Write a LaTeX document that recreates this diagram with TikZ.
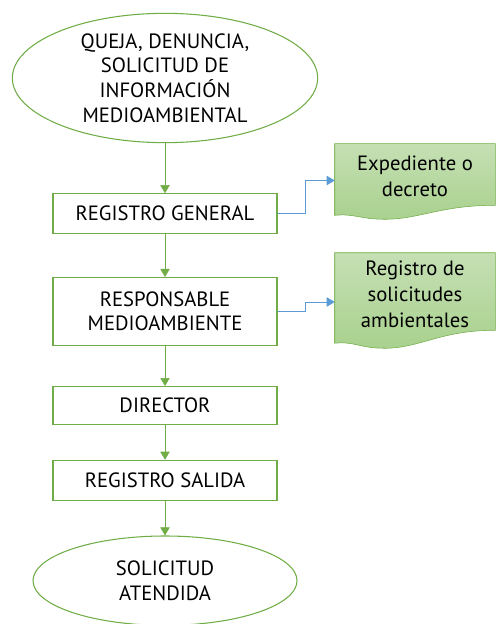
\documentclass[tikz,border=0pt]{standalone}
\usepackage{fontspec}
\setmainfont{PT Sans}
\usetikzlibrary{positioning,shapes.geometric,arrows.meta,calc}
\definecolor{verde}{HTML}{70AD47}
\definecolor{verdeclaro}{HTML}{C5E0B4}
\definecolor{verdemedio}{HTML}{A9D18E}
\definecolor{azul}{HTML}{5B9BD5}
\begin{document}
\begin{tikzpicture}
  [x=0.75pt,y=-0.75pt,
   node distance=37.5pt,
   terminal/.style={ellipse,draw=verde,thick,inner sep=0pt,
                    minimum width=229pt,minimum height=97pt,
                    align=center,font=\fontsize{15.5}{18.4}\selectfont},
   proceso/.style={rectangle,draw=verde,thick,inner sep=0pt,
                   minimum width=168pt,minimum height=30pt,
                   align=center,font=\fontsize{15.5}{18.4}\selectfont},
   documento/.style={rectangle,inner sep=0pt,minimum width=120pt,
                     minimum height=54pt,align=center,
                     font=\fontsize{15.5}{19.5}\selectfont},
   flujo/.style={-{Triangle[length=6pt,width=7pt]},verde},
   enlace/.style={-{Triangle[length=6pt,width=7pt]},azul}]
  \useasboundingbox (0,0) rectangle (498,624);
  \node[terminal] (queja) at (165,78)
    {QUEJA, DENUNCIA,\\SOLICITUD DE\\INFORMACIÓN\\MEDIOAMBIENTAL};
  \node[proceso] (general) [below=37.5pt of queja] {REGISTRO GENERAL};
  \node[proceso,minimum height=51pt] (responsable) [below=32pt of general]
    {RESPONSABLE\\MEDIOAMBIENTE};
  \node[proceso,minimum height=28.5pt] (director) [below=30pt of responsable] {DIRECTOR};
  \node[proceso] (salida) [below=26pt of director] {REGISTRO SALIDA};
  \node[terminal,minimum width=198pt,minimum height=67pt] (atendida)
    [below=26pt of salida] {SOLICITUD\\ATENDIDA};
  % documentos
  \node[documento,minimum height=45.75pt] (expediente) at (415,174.5) {};
  \node[documento,minimum height=57.75pt] (solicitudes) at (415,291.5) {};
  \foreach \d/\a in {expediente/14,solicitudes/18}
    \shade[draw=verde,top color=verdeclaro,bottom color=verdemedio]
      (\d.north west) -- (\d.north east) -- (\d.south east)
      .. controls +(-55,0) and +(35,0) .. ($(\d.south west)+(50,\a)$)
      .. controls +(-25,0) and +(20,-2) .. ($(\d.south west)+(0,0.72*\a)$) -- cycle;
  \node[documento,minimum height=45pt] at (415,176) {Expediente o\\decreto};
  \node[documento,minimum height=69pt] at (415,294)
    {Registro de\\solicitudes\\ambientales};
  % flujo principal
  \draw[flujo] (queja) -- (general);
  \draw[flujo] (general) -- (responsable);
  \draw[flujo] (responsable) -- (director);
  \draw[flujo] (director) -- (salida);
  \draw[flujo] (salida) -- (atendida);
  % enlaces
  \draw[enlace] (general.east) -- ++(28,0) |- ($(expediente.west)+(0,6)$);
  \draw[enlace] (responsable.east) -- ++(28,0) |- ($(solicitudes.west)+(0,10.5)$);
\end{tikzpicture}
\end{document}
